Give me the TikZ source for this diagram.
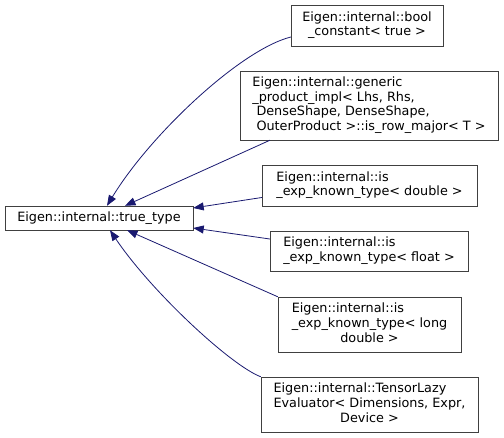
\documentclass[tikz,border=0pt]{standalone}
\usepackage{fontspec}
\setmainfont{DejaVu Sans}
\usetikzlibrary{arrows.meta}
\definecolor{NodeGray}{HTML}{404040}
\definecolor{EdgeBlue}{HTML}{191970}
\newcommand{\lastline}[1]{\multicolumn{1}{@{}c@{}}{#1}}
\newcommand{\doxlabel}[1]{\begin{tabular}{@{}l@{}}#1\end{tabular}}

\begin{document}
\begin{tikzpicture}[x=1pt,y=-1pt,
    cls/.style={draw=NodeGray,fill=white,inner sep=0pt,
      font=\fontsize{12.8}{14.6}\selectfont},
    edge/.style={-{Triangle[length=10.5pt,width=8pt]},color=EdgeBlue,line width=0.8pt}
  ]
    \useasboundingbox (0,0) rectangle (504,438);

    \node[cls,minimum width=188pt,minimum height=24pt] (base) at (99,218)
      {Eigen::internal::true\_type};

    \node[cls,minimum width=152pt,minimum height=41pt] (boolc) at (367,25.5)
      {\doxlabel{Eigen::internal::bool\\ \lastline{\_constant< true >}}};
    \node[cls,minimum width=258pt,minimum height=69pt] (rowmaj) at (369,105.5)
      {\doxlabel{Eigen::internal::generic\\
       \_product\_impl< Lhs, Rhs,\\
       \ DenseShape, DenseShape,\\
       \lastline{\ OuterProduct >::is\_row\_major< T >}}};
    \node[cls,minimum width=215pt,minimum height=41pt] (expdbl) at (369.5,185.5)
      {\doxlabel{Eigen::internal::is\\ \lastline{\_exp\_known\_type< double >}}};
    \node[cls,minimum width=198pt,minimum height=40pt] (expflt) at (369,251)
      {\doxlabel{Eigen::internal::is\\ \lastline{\_exp\_known\_type< float >}}};
    \node[cls,minimum width=183pt,minimum height=55pt] (explng) at (369.5,324.5)
      {\doxlabel{Eigen::internal::is\\ \_exp\_known\_type< long\\
       \lastline{double >}}};
    \node[cls,minimum width=217pt,minimum height=55pt] (lazy) at (369.5,404.5)
      {\doxlabel{Eigen::internal::TensorLazy\\ Evaluator< Dimensions, Expr,\\
       \lastline{Device >}}};

    % inheritance arrows, tip at the base class
    \draw[edge] ([yshift=-11.5pt]boolc.west) .. controls (240,50) and (150,135)
      .. ([xshift=8pt]base.north);
    \draw[edge] ([xshift=-99pt]rowmaj.south) -- ([xshift=26pt]base.north);
    \draw[edge] ([yshift=-12pt]expdbl.west) -- ([yshift=10pt]base.east);
    \draw[edge] ([yshift=12pt]expflt.west) -- ([yshift=-10pt]base.east);
    \draw[edge] (explng.north west) -- ([xshift=28pt]base.south);
    \draw[edge] (lazy.north west) .. controls (230,365) and (150,290)
      .. ([xshift=11pt]base.south);
\end{tikzpicture}
\end{document}
